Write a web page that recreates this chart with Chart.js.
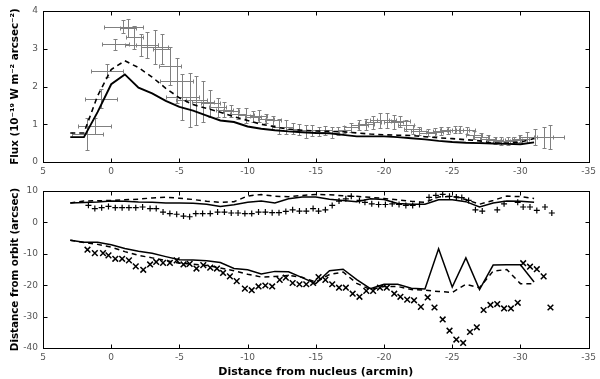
<!DOCTYPE html>
<html><head><meta charset="utf-8">
<script src="https://cdn.jsdelivr.net/npm/chart.js@4"></script>
<style>
html,body{margin:0;padding:0;background:#fff;overflow:hidden;}
#top{position:absolute;left:0;top:0;width:600px;height:180px;}
#bot{position:absolute;left:0;top:180px;width:600px;height:199px;}
</style></head><body>
<div id="top"><canvas id="c1"></canvas></div>
<div id="bot"><canvas id="c2"></canvas></div>
<script>
// ---------- data ----------
const xTicks = [5, 0, -5, -10, -15, -20, -25, -30, -35];
const fluxTicks = [0, 1, 2, 3, 4];
const orbitTicks = [10, 0, -10, -20, -30, -40];

const modelX = [3,2,1,0,-1,-2,-3,-4,-5,-6,-7,-8,-9,-10,-11,-12,-13,-14,-15,-16,-17,-18,-19,-20,-21,-22,-23,-24,-25,-26,-27,-28,-29,-30,-31];
const fluxSolid = [0.66,0.66,1.32,2.06,2.32,1.97,1.82,1.62,1.46,1.36,1.23,1.10,1.06,0.94,0.88,0.84,0.81,0.79,0.77,0.76,0.72,0.68,0.68,0.68,0.66,0.63,0.60,0.56,0.53,0.51,0.50,0.49,0.48,0.47,0.52];
const fluxDashed = [0.77,0.77,1.75,2.45,2.68,2.50,2.25,1.95,1.70,1.52,1.42,1.32,1.20,1.10,1.00,0.93,0.87,0.84,0.82,0.81,0.80,0.77,0.74,0.72,0.71,0.70,0.67,0.64,0.62,0.59,0.56,0.50,0.50,0.53,0.62];

const obsX = [1.75,1.2,0.75,0.3,-0.3,-0.9,-1.25,-1.7,-2.2,-2.6,-3.2,-3.7,-4.3,-4.8,-5.2,-5.75,-6.25,-6.75,-7.25,-7.8,-8.3,-8.8,-9.3,-9.9,-10.4,-10.8,-11.35,-11.85,-12.3,-12.8,-13.3,-13.8,-14.25,-14.75,-15.2,-15.7,-16.2,-16.65,-17.1,-17.6,-18.2,-18.7,-19.2,-19.7,-20.2,-20.7,-21.2,-21.6,-22.1,-22.6,-23.2,-23.7,-24.2,-24.7,-25.2,-25.6,-26.1,-26.6,-27.1,-27.6,-28.1,-28.6,-29.1,-29.5,-30.0,-30.5,-31.1,-31.7,-32.2];
const obsY = [0.75,0.95,1.68,2.42,3.12,3.58,3.55,3.30,3.10,3.10,3.05,3.00,2.55,2.15,1.72,1.65,1.63,1.60,1.55,1.45,1.38,1.35,1.28,1.24,1.20,1.22,1.15,1.10,0.93,0.92,0.88,0.86,0.80,0.84,0.80,0.84,0.78,0.82,0.86,0.92,0.97,1.00,1.05,1.10,1.10,1.06,1.08,0.97,0.87,0.82,0.78,0.79,0.82,0.84,0.86,0.86,0.84,0.71,0.66,0.62,0.57,0.56,0.56,0.57,0.62,0.65,0.66,0.66,0.66];
const obsYErr = [0.42,0.22,0.25,0.18,0.15,0.17,0.25,0.30,0.30,0.35,0.45,0.40,0.50,0.60,0.62,0.72,0.65,0.55,0.35,0.25,0.20,0.15,0.15,0.20,0.15,0.15,0.12,0.12,0.20,0.18,0.15,0.15,0.17,0.15,0.12,0.12,0.15,0.10,0.10,0.12,0.13,0.15,0.18,0.20,0.20,0.18,0.15,0.15,0.12,0.10,0.10,0.10,0.10,0.10,0.10,0.10,0.10,0.10,0.12,0.10,0.10,0.10,0.10,0.10,0.10,0.15,0.22,0.28,0.32];
const obsXErr = [1.15,1.2,1.2,1.2,1.0,1.4,0.6,0.6,1.2,0.8,1.0,0.6,0.8,1.2,1.2,1.0,0.8,0.8,0.7,0.6,0.6,0.6,0.6,0.6,0.6,0.6,0.6,0.6,0.5,0.5,0.5,0.5,0.5,0.5,0.5,0.5,0.5,0.5,0.5,0.5,0.6,0.6,0.6,0.7,0.7,0.7,0.7,0.6,0.6,0.6,0.6,0.6,0.6,0.6,0.6,0.6,0.6,0.6,0.6,0.6,0.6,0.6,0.6,0.6,0.6,0.6,0.6,0.7,1.0];

const upperSolid = [6.2,6.3,6.5,6.8,6.7,6.5,6.4,6.2,6.2,6.1,5.8,5.1,5.6,6.4,6.8,6.2,7.5,8.1,8.1,7.4,7.0,6.6,7.5,7.3,6.0,5.8,5.8,7.2,7.2,6.6,4.9,6.2,6.8,6.7,6.4];
const upperDashed = [6.2,6.8,6.9,7.0,7.2,7.4,7.8,8.0,7.7,7.3,6.7,6.4,6.6,8.4,8.9,8.3,8.2,8.6,8.9,8.8,8.5,8.3,8.0,7.6,7.2,6.7,6.4,8.1,8.3,7.3,5.8,7.0,8.4,8.2,7.6];
const lowerSolid = [-5.7,-6.3,-6.3,-7.1,-8.3,-9.2,-9.8,-10.9,-11.9,-12.0,-12.2,-12.8,-14.7,-15.1,-16.4,-15.6,-15.7,-17.6,-19.5,-15.4,-14.9,-18.2,-21.1,-19.7,-19.7,-21.0,-21.2,-8.4,-20.6,-11.3,-21.4,-13.6,-13.5,-13.5,-19.0];
const lowerDashed = [-5.7,-6.4,-7.0,-7.9,-9.3,-10.5,-11.3,-12.1,-13.0,-13.3,-13.7,-14.5,-15.4,-16.5,-17.4,-17.2,-16.9,-17.5,-19.0,-16.6,-15.8,-19.4,-21.4,-20.4,-20.4,-21.4,-21.6,-22.0,-22.3,-19.7,-20.8,-15.5,-15.0,-19.5,-19.5];

const plusX = [1.67,1.2,0.7,0.2,-0.3,-0.8,-1.3,-1.8,-2.3,-2.85,-3.3,-3.8,-4.3,-4.8,-5.3,-5.75,-6.2,-6.7,-7.26,-7.8,-8.3,-8.8,-9.3,-9.8,-10.3,-10.8,-11.3,-11.8,-12.3,-12.8,-13.3,-13.8,-14.3,-14.8,-15.2,-15.7,-16.2,-16.7,-17.2,-17.6,-18.2,-18.6,-19.1,-19.6,-20.1,-20.6,-21.1,-21.6,-22.1,-22.6,-23.3,-23.8,-24.3,-24.8,-25.3,-25.7,-26.2,-26.7,-27.2,-28.3,-28.8,-29.8,-30.2,-30.7,-31.2,-31.8,-32.3];
const plusY = [5.45,4.4,4.7,5.1,4.7,4.7,4.7,4.7,4.9,4.4,4.4,3.3,2.8,2.6,2.0,1.8,2.8,2.8,2.8,3.3,3.3,3.0,3.0,2.8,2.8,3.3,3.3,3.1,3.1,3.5,4.0,3.6,3.6,4.4,3.6,4.0,5.4,6.8,7.5,8.3,7.0,6.4,5.9,5.7,5.7,5.9,5.7,5.4,5.4,5.7,8.0,8.6,8.9,8.3,8.1,7.9,7.0,4.0,3.6,4.0,5.9,6.4,4.9,4.9,3.8,4.9,3.0];
const crossX = [1.74,1.2,0.6,0.2,-0.3,-0.8,-1.3,-1.8,-2.35,-2.85,-3.3,-3.8,-4.3,-4.8,-5.3,-5.75,-6.25,-6.75,-7.26,-7.75,-8.2,-8.7,-9.2,-9.8,-10.3,-10.8,-11.3,-11.8,-12.35,-12.8,-13.3,-13.8,-14.3,-14.8,-15.2,-15.7,-16.2,-16.7,-17.2,-17.7,-18.2,-18.7,-19.2,-19.7,-20.2,-20.75,-21.2,-21.7,-22.2,-22.7,-23.2,-23.7,-24.3,-24.8,-25.3,-25.8,-26.3,-26.8,-27.3,-27.8,-28.3,-28.8,-29.3,-29.8,-30.2,-30.7,-31.2,-31.7,-32.2];
const crossY = [-8.7,-9.8,-9.8,-10.5,-11.6,-11.6,-12.1,-14.0,-15.1,-13.4,-12.6,-12.9,-12.9,-12.1,-13.4,-13.2,-14.7,-13.6,-14.4,-14.7,-16.1,-17.2,-18.7,-21.1,-21.6,-20.4,-20.1,-20.4,-18.3,-17.6,-19.3,-19.7,-19.7,-19.3,-17.4,-18.3,-19.7,-20.8,-20.8,-22.7,-23.7,-21.8,-21.8,-20.8,-20.8,-22.7,-23.7,-24.6,-24.8,-26.9,-23.9,-27.1,-30.9,-34.5,-37.3,-38.4,-34.9,-33.4,-27.9,-26.3,-26.0,-27.4,-27.4,-25.6,-13.0,-14.1,-14.9,-17.2,-27.1];

// ---------- helpers ----------
const zip = (xs, ys) => xs.map((x, i) => ({x: x, y: ys[i]}));
const TICK_FONT = {family: 'DejaVu Sans', size: 9};
const TICK_COLOR = '#555';

const framePlugin = {
  id: 'frame',
  afterDraw(chart) {
    const {ctx, chartArea: a, scales} = chart;
    ctx.save();
    ctx.strokeStyle = '#000';
    ctx.lineWidth = 1;
    const l = Math.round(a.left) + 0.5, t = Math.round(a.top) + 0.5;
    const r = Math.round(a.right) + 0.5, b = Math.round(a.bottom) + 0.5;
    ctx.strokeRect(l, t, r - l, b - t);
    const L = 4;
    ctx.beginPath();
    scales.x.ticks.forEach(tk => {
      const px = Math.round(scales.x.getPixelForValue(tk.value)) + 0.5;
      if (px <= l + 1 || px >= r - 1) return;
      ctx.moveTo(px, t); ctx.lineTo(px, t + L);
      ctx.moveTo(px, b); ctx.lineTo(px, b - L);
    });
    scales.y.ticks.forEach(tk => {
      const py = Math.round(scales.y.getPixelForValue(tk.value)) + 0.5;
      if (py <= t + 1 || py >= b - 1) return;
      ctx.moveTo(l, py); ctx.lineTo(l + L, py);
      ctx.moveTo(r, py); ctx.lineTo(r - L, py);
    });
    ctx.stroke();
    ctx.restore();
  }
};

const errPlugin = {
  id: 'errbars',
  beforeDatasetsDraw(chart) {
    const {ctx, chartArea: a} = chart;
    const xs = chart.scales.x, ys = chart.scales.y;
    ctx.save();
    ctx.beginPath();
    ctx.rect(a.left, a.top, a.right - a.left, a.bottom - a.top);
    ctx.clip();
    ctx.strokeStyle = '#808080';
    ctx.lineWidth = 1;
    ctx.beginPath();
    const C = 2;
    for (let i = 0; i < obsX.length; i++) {
      const cx = Math.round(xs.getPixelForValue(obsX[i])) + 0.5;
      const cy = Math.round(ys.getPixelForValue(obsY[i])) + 0.5;
      const x1 = Math.round(xs.getPixelForValue(obsX[i] + obsXErr[i])) + 0.5;
      const x2 = Math.round(xs.getPixelForValue(obsX[i] - obsXErr[i])) + 0.5;
      const y1 = Math.round(ys.getPixelForValue(obsY[i] + obsYErr[i])) + 0.5;
      const y2 = Math.round(ys.getPixelForValue(obsY[i] - obsYErr[i])) + 0.5;
      ctx.moveTo(x1, cy); ctx.lineTo(x2, cy);
      ctx.moveTo(x1, cy - C); ctx.lineTo(x1, cy + C);
      ctx.moveTo(x2, cy - C); ctx.lineTo(x2, cy + C);
      ctx.moveTo(cx, y1); ctx.lineTo(cx, y2);
      ctx.moveTo(cx - C, y1); ctx.lineTo(cx + C, y1);
      ctx.moveTo(cx - C, y2); ctx.lineTo(cx + C, y2);
    }
    ctx.stroke();
    ctx.restore();
  }
};

function xScale(titleText, height) {
  return {
    type: 'linear', min: -35, max: 5, reverse: true,
    afterBuildTicks: s => { s.ticks = xTicks.map(v => ({value: v})); },
    afterFit: s => { s.height = height; },
    grid: {display: false, drawTicks: false},
    border: {display: false},
    ticks: {font: TICK_FONT, color: TICK_COLOR, padding: 4, maxRotation: 0, autoSkip: false,
            callback: v => String(v)},
    title: titleText ? {display: true, text: titleText, color: '#000',
            font: {family: 'DejaVu Sans', size: 11, weight: 'bold'}, padding: {top: 1, bottom: 0}} : {display: false}
  };
}
function yScale(min, max, tickArr, titleText) {
  return {
    type: 'linear', min: min, max: max,
    afterBuildTicks: s => { s.ticks = tickArr.map(v => ({value: v})); },
    afterFit: s => { s.width = 43; },
    grid: {display: false, drawTicks: false},
    border: {display: false},
    ticks: {font: TICK_FONT, color: TICK_COLOR, padding: 5, callback: v => String(v)},
    title: {display: true, text: titleText, color: '#000',
            font: {family: 'DejaVu Sans', size: 10.3, weight: 'bold'}, padding: {top: 9, bottom: 0}}
  };
}
const common = {
  responsive: true, maintainAspectRatio: false, animation: false, devicePixelRatio: 1,
  plugins: {legend: {display: false}, tooltip: {enabled: false}},
  layout: {padding: {top: 11, right: 9, left: 0, bottom: 0}}
};

new Chart(document.getElementById('c1'), {
  type: 'scatter',
  data: {datasets: [
    {data: zip(obsX, obsY), pointRadius: 0, showLine: false},
    {data: zip(modelX, fluxDashed), showLine: true, borderColor: '#000', borderWidth: 1.6, borderDash: [5, 4], pointRadius: 0, fill: false},
    {data: zip(modelX, fluxSolid), showLine: true, borderColor: '#000', borderWidth: 1.9, pointRadius: 0, fill: false}
  ]},
  options: Object.assign({}, common, {
    scales: {
      x: xScale(null, 18),
      y: yScale(0, 4, fluxTicks, 'Flux (10\u207B\u00B9\u2079 W m\u207B\u00B2 arcsec\u207B\u00B2)')
    }
  }),
  plugins: [errPlugin, framePlugin]
});

new Chart(document.getElementById('c2'), {
  type: 'scatter',
  data: {datasets: [
    {data: zip(modelX, upperDashed), showLine: true, borderColor: '#000', borderWidth: 1.5, borderDash: [5, 4], pointRadius: 0},
    {data: zip(modelX, upperSolid), showLine: true, borderColor: '#000', borderWidth: 1.5, pointRadius: 0},
    {data: zip(modelX, lowerDashed), showLine: true, borderColor: '#000', borderWidth: 1.5, borderDash: [5, 4], pointRadius: 0},
    {data: zip(modelX, lowerSolid), showLine: true, borderColor: '#000', borderWidth: 1.5, pointRadius: 0},
    {data: zip(plusX, plusY), showLine: false, pointStyle: 'cross', pointRadius: 3, borderColor: '#000', borderWidth: 1.2},
    {data: zip(crossX, crossY), showLine: false, pointStyle: 'crossRot', pointRadius: 4, borderColor: '#000', borderWidth: 1.5}
  ]},
  options: Object.assign({}, common, {
    scales: {
      x: xScale('Distance from nucleus (arcmin)', 31),
      y: yScale(-40, 10, orbitTicks, 'Distance from orbit (arcsec)')
    }
  }),
  plugins: [framePlugin]
});
</script>
</body></html>
